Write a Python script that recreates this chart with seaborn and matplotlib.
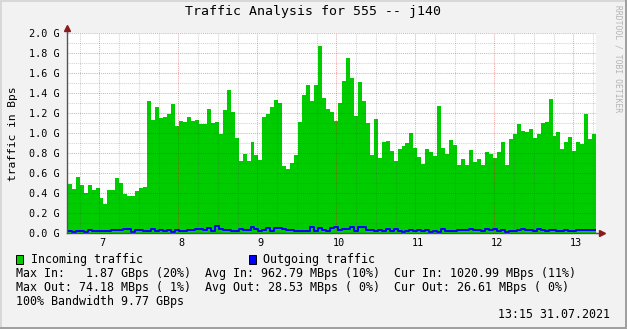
import numpy as np
import pandas as pd
import matplotlib
matplotlib.use("Agg")
import matplotlib.pyplot as plt
import seaborn as sns
from matplotlib.transforms import ScaledTranslation
from matplotlib.patches import Rectangle

# ---------------- data (values in G bytes/s) ----------------
START_DAY = 6.55          # start of first (partially visible) 72-min sample
STEP_DAY = 0.0503         # sample width in days

incoming = [
    0.55, 0.49, 0.44, 0.56, 0.48, 0.40, 0.48, 0.43, 0.45, 0.35, 0.29, 0.43,
    0.43, 0.55, 0.50, 0.39, 0.37, 0.37, 0.42, 0.45, 0.46, 1.32, 1.13, 1.26,
    1.15, 1.16, 1.19, 1.29, 1.07, 1.12, 1.11, 1.16, 1.12, 1.13, 1.09, 1.09,
    1.24, 1.10, 1.11, 0.99, 1.23, 1.43, 1.21, 0.95, 0.72,
    0.79, 0.72, 0.91, 0.78, 0.73, 1.16, 1.19, 1.26, 1.33, 1.30, 0.67, 0.64,
    0.70, 0.78, 1.11, 1.38, 1.48, 1.32, 1.48, 1.87, 1.35, 1.24,
    1.21, 1.12, 1.30, 1.52, 1.75, 1.55, 1.17, 1.51, 1.32, 1.10, 0.78, 1.14,
    0.75, 0.91, 0.92, 0.82, 0.72, 0.84, 0.87, 0.90, 1.00, 0.85, 0.76,
    0.69, 0.84, 0.81, 0.77, 1.27, 0.85, 0.79, 0.93, 0.88, 0.68, 0.74, 0.68,
    0.83, 0.71, 0.74, 0.68, 0.81, 0.79, 0.75, 0.81, 0.91, 0.68,
    0.94, 0.99, 1.09, 1.02, 1.01, 1.04, 0.95, 0.99, 1.10, 1.11, 1.34, 0.97,
    1.01, 0.84, 0.91, 0.96, 0.82, 0.91, 0.89, 1.19, 0.94, 0.99,
]

outgoing = [
    0.020, 0.020, 0.010, 0.017, 0.017, 0.010, 0.027, 0.017, 0.017, 0.017, 0.017, 0.017,
    0.027, 0.027, 0.027, 0.037, 0.037, 0.010, 0.027, 0.027, 0.020, 0.020, 0.037, 0.020,
    0.027, 0.017, 0.027, 0.007, 0.027, 0.017, 0.017, 0.027, 0.027, 0.037, 0.037, 0.027,
    0.047, 0.017, 0.074, 0.037, 0.027, 0.027, 0.017, 0.017, 0.037,
    0.027, 0.027, 0.057, 0.037, 0.017, 0.027, 0.047, 0.017, 0.047, 0.047, 0.037, 0.027,
    0.027, 0.017, 0.017, 0.017, 0.017, 0.057, 0.017, 0.047, 0.027, 0.017,
    0.047, 0.057, 0.027, 0.037, 0.037, 0.057, 0.017, 0.057, 0.057, 0.027, 0.027, 0.017,
    0.027, 0.017, 0.037, 0.017, 0.037, 0.017, 0.007, 0.017, 0.027, 0.017, 0.027,
    0.017, 0.027, 0.007, 0.017, 0.007, 0.037, 0.017, 0.017, 0.017, 0.027, 0.027, 0.027,
    0.037, 0.027, 0.027, 0.017, 0.037, 0.027, 0.037, 0.017, 0.027, 0.007,
    0.017, 0.017, 0.027, 0.037, 0.027, 0.027, 0.017, 0.037, 0.027, 0.017, 0.027, 0.027,
    0.017, 0.017, 0.027, 0.017, 0.017, 0.027, 0.027, 0.027, 0.027, 0.027,
]

day_ticks = [7, 8, 9, 10, 11, 12, 13]
y_ticks = [0.0, 0.2, 0.4, 0.6, 0.8, 1.0, 1.2, 1.4, 1.6, 1.8, 2.0]

title = "Traffic Analysis for 555 -- j140"
ylabel = "traffic in Bps"
legend_in = "Incoming traffic"
legend_out = "Outgoing traffic"
stat_lines = [
    "Max In:   1.87 GBps (20%)  Avg In: 962.79 MBps (10%)  Cur In: 1020.99 MBps (11%)",
    "Max Out: 74.18 MBps ( 1%)  Avg Out: 28.53 MBps ( 0%)  Cur Out: 26.61 MBps ( 0%)",
    "100% Bandwidth 9.77 GBps",
]
timestamp = "13:15 31.07.2021"
watermark = "RRDTOOL / TOBI OETIKER"

# ---------------- figure ----------------
sns.set_theme(style="white")
plt.rcParams["font.family"] = ["DejaVu Sans Mono", "DejaVu Sans"]

W, H = 627, 329
BG = "#F2F2F2"
fig = plt.figure(figsize=(W / 100, H / 100), dpi=100, facecolor=BG)

X0, X1, YB, YT = 67, 596, 233, 33
ax = fig.add_axes([X0 / W, (H - YB) / H, (X1 - X0) / W, (YB - YT) / H])
ax.set_facecolor("white")

n = len(incoming)
edges = START_DAY + STEP_DAY * np.arange(n + 1)

# incoming: step area
ax.fill_between(edges, list(incoming) + [incoming[-1]], 0, step="post",
                color="#00CC00", linewidth=0, zorder=1)

# outgoing: step line
df_out = pd.DataFrame({"t": edges, "v": outgoing + [outgoing[-1]]})
sns.lineplot(data=df_out, x="t", y="v", drawstyle="steps-post", color="#0000FF",
             linewidth=1.4, ax=ax, zorder=4)

left_day = 7 - (99.3 - X0) / 79.0
right_day = left_day + (X1 - X0) / 79.0

# ticks & grid
ax.set_axisbelow(False)
minor_x = [d + f for d in range(6, 14) for f in (0.25, 0.5, 0.75)]
minor_x = [m for m in minor_x if left_day < m < right_day]
ax.set_xticks(day_ticks)
ax.set_xticks(minor_x, minor=True)
ax.set_yticks(y_ticks)
ax.set_yticks(np.arange(0.1, 2.0, 0.2), minor=True)
ax.set_xticklabels([str(d) for d in day_ticks])
ax.set_yticklabels([f"{v:.1f} G" for v in y_ticks])
ax.set_xlim(left_day, right_day)
ax.set_ylim(0, 2.0)

ax.grid(which="major", color=(0.8, 0.0, 0.0), alpha=0.33, linestyle=(0, (1, 1)), linewidth=0.75)
ax.grid(which="minor", color=(0.3, 0.3, 0.3), alpha=0.25, linestyle=(0, (1, 1)), linewidth=0.75)
ax.tick_params(axis="both", which="both", direction="out", length=1.5, width=0.7,
               color="#B0B0B0", labelsize=7.3, labelcolor="black")
ax.tick_params(axis="x", which="major", pad=2.2)
ax.tick_params(axis="y", which="major", pad=4.0)
for lab in ax.get_xticklabels():
    lab.set_transform(lab.get_transform() + ScaledTranslation(3 / 100, 0, fig.dpi_scale_trans))

ax.set_xlabel("")
ax.set_ylabel("")
for s in ["top", "right"]:
    ax.spines[s].set_visible(False)
for s in ["left", "bottom"]:
    ax.spines[s].set_color("#555555")
    ax.spines[s].set_linewidth(1.0)
    ax.spines[s].set_zorder(5)

# axis extensions and arrows
ax.plot([0, 0], [1.0, 1.018], transform=ax.transAxes, color="#555555", lw=1.0, clip_on=False, zorder=5)
ax.plot([1.0, 1.008], [0, 0], transform=ax.transAxes, color="#555555", lw=1.0, clip_on=False, zorder=5)
ax.plot([0], [1.025], transform=ax.transAxes, marker="^", ms=4.5, color="#8B1A1A",
        mec="#8B1A1A", clip_on=False, zorder=6)
ax.plot([1.0115], [0], transform=ax.transAxes, marker=">", ms=4.5, color="#8B1A1A",
        mec="#8B1A1A", clip_on=False, zorder=6)

# texts
def fy(y):
    return 1 - y / H

fig.text(313 / W, fy(12), title, ha="center", va="center", fontsize=9.5, color="black")
fig.text(13 / W, fy(134), ylabel, ha="center", va="center", rotation=90, fontsize=8.1, color="black")
fig.text(618 / W, fy(5), watermark, ha="center", va="top", rotation=-90, fontsize=5.8, color="#B4B4B4")

# legend
fig.patches.append(Rectangle((16 / W, fy(264)), 7 / W, 9 / H, transform=fig.transFigure,
                             facecolor="#00CC00", edgecolor="black", linewidth=0.7))
fig.text(31 / W, fy(260), legend_in, ha="left", va="center", fontsize=8.4, color="black")
fig.patches.append(Rectangle((249 / W, fy(264)), 7 / W, 9 / H, transform=fig.transFigure,
                             facecolor="#0000FF", edgecolor="black", linewidth=0.7))
fig.text(263 / W, fy(260), legend_out, ha="left", va="center", fontsize=8.4, color="black")

for i, line in enumerate(stat_lines):
    fig.text(16 / W, fy(274 + 14 * i), line, ha="left", va="center", fontsize=8.4, color="black")
fig.text(610 / W, fy(315), timestamp, ha="right", va="center", fontsize=8.4, color="black")

# frame shading
fig.patches.append(Rectangle((0, 0), 2 / W, 1, transform=fig.transFigure, facecolor="#D8D8D8", edgecolor="none"))
fig.patches.append(Rectangle((0, 1 - 2 / H), 1, 2 / H, transform=fig.transFigure, facecolor="#D8D8D8", edgecolor="none"))
fig.patches.append(Rectangle((1 - 2 / W, 0), 2 / W, 1, transform=fig.transFigure, facecolor="#A0A0A0", edgecolor="none"))
fig.patches.append(Rectangle((0, 0), 1, 2 / H, transform=fig.transFigure, facecolor="#A0A0A0", edgecolor="none"))

fig.savefig("out.png", dpi=100, facecolor=BG)
